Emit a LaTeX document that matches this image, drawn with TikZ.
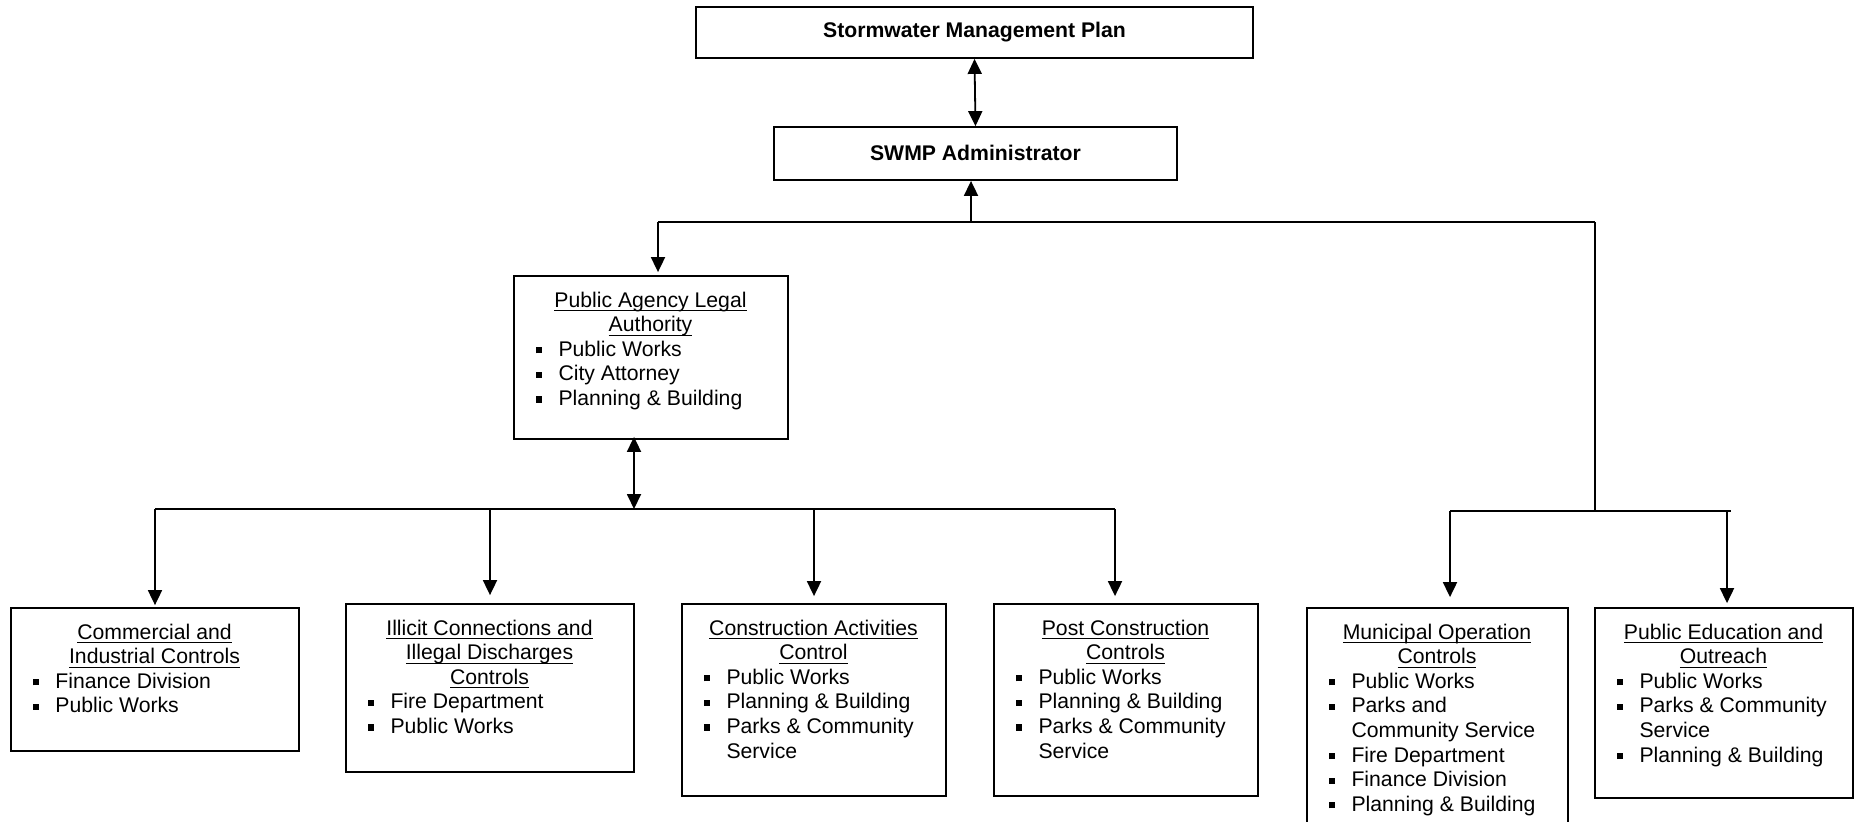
\documentclass[tikz,border=0pt]{standalone}
\usepackage{fontspec}
\setmainfont{Liberation Sans}
\usetikzlibrary{arrows.meta}
\newcommand{\myul}[1]{\setbox0=\hbox{#1}\rlap{\rule[-2pt]{\wd0}{0.6pt}}\box0}
\newcommand{\mystrut}{\rule{0pt}{8pt}}
\newcommand{\myttl}[1]{\centerline{\mystrut\myul{#1}}}
\newcommand{\mybit}[1]{\leftline{\mystrut\hspace*{11.3pt}\rule[1.5pt]{3.1pt}{3.1pt}\hspace*{8.1pt}#1}}
\newcommand{\mycit}[1]{\leftline{\mystrut\hspace*{22.5pt}#1}}
\newcommand{\boxtext}[2]{\vbox{\hsize=#2\baselineskip=12.3pt\relax #1}}
\tikzset{
  every node/.style={font=\fontsize{10.6}{12.3}\selectfont, inner sep=0pt},
  bx/.style={draw, line width=0.9pt, fill=white},
  txt/.style={anchor=north west},
  ln/.style={line width=0.9pt},
  arr/.style={line width=0.9pt, -{Triangle[length=7.5pt,width=7pt]}},
  dbl/.style={line width=0.9pt, {Triangle[length=7.5pt,width=7pt]}-{Triangle[length=7.5pt,width=7pt]}}
}
\begin{document}
\begin{tikzpicture}[x=0.5pt,y=-0.5pt]
\useasboundingbox (0,0) rectangle (1866,821);
\clip (0,0) rectangle (1866,821);
\fill[white] (0,0) rectangle (1866,821);

% top boxes
\node[bx, minimum width=278.5pt, minimum height=25.5pt] (smp) at (974.5,32.5) {\bfseries Stormwater Management Plan};
\node[bx, minimum width=201.5pt, minimum height=26.5pt] (swmp) at (975.5,153.5) {\raisebox{0.6pt}{\bfseries SWMP Administrator}};

% Public Agency Legal Authority
\node[bx, minimum width=137pt, minimum height=81.5pt] (pala) at (651,357.5) {};
\node[txt] (palat) at ([yshift=-7.8pt]pala.north west) {\boxtext{%
  \myttl{Public Agency Legal}\myttl{Authority}%
  \mybit{Public Works}\mybit{City Attorney}\mybit{Planning \& Building}}{137pt}};

% bottom boxes
\node[bx, minimum width=144pt, minimum height=71.5pt] (b1) at (155,679.5) {};
\node[txt] (b1t) at ([yshift=-7.8pt]b1.north west) {\boxtext{%
  \myttl{Commercial and}\myttl{Industrial Controls}%
  \mybit{Finance Division}\mybit{Public Works}}{144pt}};

\node[bx, minimum width=144pt, minimum height=84pt] (b2) at (490,688) {};
\node[txt] (b2t) at ([yshift=-7.8pt]b2.north west) {\boxtext{%
  \myttl{Illicit Connections and}\myttl{Illegal Discharges}\myttl{Controls}%
  \mybit{Fire Department}\mybit{Public Works}}{144pt}};

\node[bx, minimum width=132pt, minimum height=96pt] (b3) at (814,700) {};
\node[txt] (b3t) at ([yshift=-7.8pt]b3.north west) {\boxtext{%
  \myttl{Construction Activities}\myttl{Control}%
  \mybit{Public Works}\mybit{Planning \& Building}\mybit{Parks \& Community}\mycit{Service}}{132pt}};

\node[bx, minimum width=132pt, minimum height=96pt] (b4) at (1126,700) {};
\node[txt] (b4t) at ([yshift=-7.8pt]b4.north west) {\boxtext{%
  \myttl{Post Construction}\myttl{Controls}%
  \mybit{Public Works}\mybit{Planning \& Building}\mybit{Parks \& Community}\mycit{Service}}{132pt}};

\node[bx, minimum width=130.5pt, minimum height=126pt] (b5) at (1437.5,734) {};
\node[txt] (b5t) at ([yshift=-7.8pt]b5.north west) {\boxtext{%
  \myttl{Municipal Operation}\myttl{Controls}%
  \mybit{Public Works}\mybit{Parks and}\mycit{Community Service}\mybit{Fire Department}\mybit{Finance Division}\mybit{Planning \& Building}}{130.5pt}};

\node[bx, minimum width=129pt, minimum height=95pt] (b6) at (1724,703) {};
\node[txt] (b6t) at ([yshift=-7.8pt]b6.north west) {\boxtext{%
  \myttl{Public Education and}\myttl{Outreach}%
  \mybit{Public Works}\mybit{Parks \& Community}\mycit{Service}\mybit{Planning \& Building}}{129pt}};

% connectors
\draw[dbl] (smp.south) -- (swmp.north);

\coordinate (j1) at (971,222);
\coordinate (jl) at (658,222);
\coordinate (jr) at (1595,222);
\draw[ln] (jl) -- (jr);
\draw[arr] (j1) -- (j1 |- swmp.south);
\draw[arr, shorten >=1.5pt] (jl) -- (jl |- pala.north);

\coordinate (p1) at (634,509);
\draw[dbl, shorten <=-1.5pt] (p1 |- pala.south) -- (p1);

\coordinate (l1) at (155,509);
\coordinate (l2) at (490,509);
\coordinate (l3) at (814,509);
\coordinate (l4) at (1115,509);
\draw[ln] (l1) -- (l4);
\draw[arr, shorten >=1pt] (l1) -- (l1 |- b1.north);
\draw[arr, shorten >=4pt] (l2) -- (l2 |- b2.north);
\draw[arr, shorten >=3.5pt] (l3) -- (l3 |- b3.north);
\draw[arr, shorten >=3.5pt] (l4) -- (l4 |- b4.north);

\coordinate (rr) at (1595,511);
\coordinate (r5) at (1450,511);
\coordinate (r6) at (1727,511);
\coordinate (r6e) at (1731,511);
\draw[ln] (jr) -- (rr);
\draw[ln] (r5) -- (r6e);
\draw[arr, shorten >=5pt] (r5) -- (r5 |- b5.north);
\draw[arr, shorten >=2pt] (r6) -- (r6 |- b6.north);
\end{tikzpicture}
\end{document}
